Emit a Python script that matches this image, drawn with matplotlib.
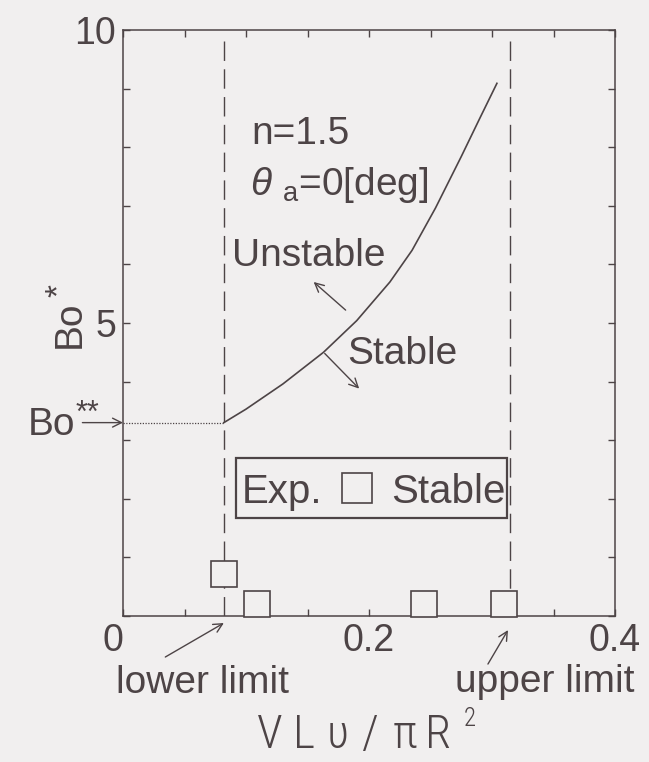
import matplotlib
matplotlib.use("Agg")
import matplotlib.pyplot as plt
from matplotlib.patches import Rectangle
from matplotlib.ticker import MultipleLocator, FixedLocator, FixedFormatter

# Critical Bond number Bo* along the stability boundary
curve_x = [0.082, 0.10, 0.13, 0.163, 0.19, 0.217, 0.235, 0.254, 0.275, 0.29, 0.304]
curve_bo = [3.3, 3.53, 3.96, 4.50, 5.04, 5.70, 6.24, 6.96, 7.84, 8.49, 9.09]

# Experimental runs (all stable)
exp_x = [0.082, 0.109, 0.2445, 0.31]
exp_bo = [0.72, 0.2, 0.2, 0.2]

# Flow-rate limits and the Bo** level
lower_limit = 0.082
upper_limit = 0.315
limit_top = 9.85
bo_ss = 3.3

x_ticks = [0.0, 0.2, 0.4]
x_tick_labels = ["0", "0.2", "0.4"]
y_ticks = [0, 5, 10]
y_tick_labels = ["", "5", "10"]

INK = "#4d4446"
PAPER = "#f1efef"
W, H = 649, 762

plt.rcParams.update({
    "font.family": ["Liberation Sans", "DejaVu Sans"],
    "mathtext.fontset": "custom",
    "mathtext.rm": "Liberation Sans",
    "mathtext.it": "Liberation Sans:italic",
    "text.color": INK,
    "axes.edgecolor": INK,
    "xtick.color": INK,
    "ytick.color": INK,
})

fig = plt.figure(figsize=(W / 100, H / 100), dpi=100, facecolor=PAPER)
ax = fig.add_axes([123 / W, 1 - 616 / H, (615 - 123) / W, (616 - 30) / H])
ax.set_facecolor(PAPER)
ax.set_xlim(0, 0.4)
ax.set_ylim(0, 10)
for s in ax.spines.values():
    s.set_linewidth(1.1)
    s.set_color(INK)

ax.xaxis.set_major_locator(FixedLocator(x_ticks))
ax.xaxis.set_major_formatter(FixedFormatter(x_tick_labels))
ax.xaxis.set_minor_locator(MultipleLocator(0.05))
ax.yaxis.set_major_locator(FixedLocator(y_ticks))
ax.yaxis.set_major_formatter(FixedFormatter(y_tick_labels))
ax.yaxis.set_minor_locator(MultipleLocator(1))
ax.tick_params(which="both", direction="in", top=True, right=True,
               length=5, width=1.0, color=INK)
ax.tick_params(which="major", labelsize=27, pad=5)
ax.xaxis.get_major_ticks()[0].label1.set_horizontalalignment("right")

# stability limits
ax.vlines([lower_limit, upper_limit], 0, limit_top, colors=INK,
          linewidth=1.0, linestyles=[(0, (14, 6))], zorder=2)
# Bo** level
ax.plot([0, lower_limit], [bo_ss, bo_ss], color=INK, lw=0.9,
        linestyle=(0, (1, 1.2)), zorder=2)
# stability boundary
ax.plot(curve_x, curve_bo, color=INK, lw=1.2, zorder=3)

# experiments
ax.plot(exp_x, exp_bo, "s", ms=18.5, mfc=PAPER, mec=INK, mew=1.2,
        clip_on=False, zorder=5)

# key box
ax.add_patch(Rectangle((0.092, 1.67), 0.22, 1.03, facecolor=PAPER,
                       edgecolor=INK, lw=1.6, zorder=4))
ax.text(0.0965, 1.92, "Exp.", fontsize=29, va="baseline", zorder=6)
ax.plot([0.190], [2.18], "s", ms=22, mfc=PAPER, mec=INK, mew=1.2, zorder=6)
ax.text(0.2177, 1.92, "Stable", fontsize=29, va="baseline", zorder=6)

# annotations
ax.text(0.1045, 8.06, "n=1.5", fontsize=28, va="baseline")
ax.text(0.103, 7.18, r"$\theta$ $_{\mathrm{a}}$=0[deg]", fontsize=28,
        va="baseline")
ax.text(0.0886, 5.98, "Unstable", fontsize=28, va="baseline")
ax.text(0.182, 4.30, "Stable", fontsize=28, va="baseline")

arrow = dict(arrowstyle="->", lw=1.0, color=INK, mutation_scale=16,
             shrinkA=0, shrinkB=0)
ax.annotate("", xy=(0.155, 5.70), xytext=(0.181, 5.22), arrowprops=arrow)
ax.annotate("", xy=(0.192, 3.88), xytext=(0.164, 4.48), arrowprops=arrow)

# Bo** marker on the left axis
ax.annotate("", xy=(0, bo_ss), xytext=(-0.033, bo_ss), arrowprops=arrow,
            annotation_clip=False)
fig.text(28 / W, 1 - 435 / H, "Bo", fontsize=28, va="baseline")
fig.text(76 / W, 1 - 422 / H, "**", fontsize=22, va="baseline")

# y label Bo*
fig.text(80 / W, 1 - 348 / H, "Bo", fontsize=28, rotation=90,
         rotation_mode="anchor", ha="left", va="baseline")
fig.text(68 / W, 1 - 297 / H, "*", fontsize=24, rotation=90,
         rotation_mode="anchor", ha="left", va="baseline")

# limit labels below the axis
ax.annotate("", xy=(lower_limit, -0.12), xytext=(0.0344, -0.70),
            arrowprops=arrow, annotation_clip=False)
ax.annotate("", xy=(0.313, -0.24), xytext=(0.2967, -0.82),
            arrowprops=arrow, annotation_clip=False)
ax.text(-0.006, -1.31, "lower limit", fontsize=28, va="baseline",
        clip_on=False)
ax.text(0.27, -1.30, "upper limit", fontsize=28, va="baseline",
        clip_on=False)

# x label: VLυ/πR^2, tall thin letters with wide spacing
xlabel_chars = "VLυ/πR"
label_font = ["Open Sans Condensed Light", "Roboto Condensed Light",
              "Roboto Condensed", "Liberation Sans Narrow", "DejaVu Sans"]
for i, ch in enumerate(xlabel_chars):
    fig.text((270 + 33.6 * i) / W, 1 - 748 / H, ch, fontsize=34,
             family=label_font, fontweight="light", ha="center",
             va="baseline")
fig.text(470 / W, 1 - 719 / H, "2", fontsize=18, family=label_font,
         fontweight="light", ha="center", va="center")

fig.savefig("out.png", dpi=100, facecolor=PAPER)
